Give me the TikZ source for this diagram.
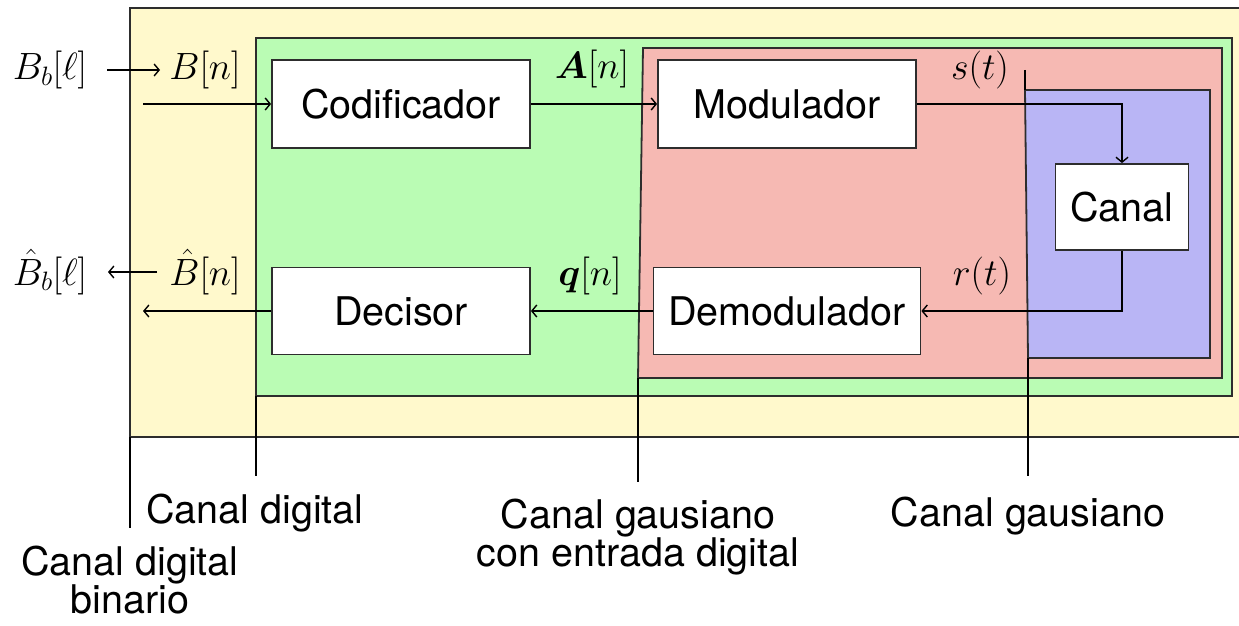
\RequirePackage{fix-cm}
\documentclass[tikz,border=0pt]{standalone}
\usepackage{fontspec}
\usepackage{bm}
\newfontfamily\labfont{TeX Gyre Heros}
\usetikzlibrary{arrows.meta}
\definecolor{yel}{RGB}{255,249,204}
\definecolor{grn}{RGB}{186,252,180}
\definecolor{redc}{RGB}{246,185,179}
\definecolor{blu}{RGB}{185,181,245}
\definecolor{edge}{RGB}{45,45,45}
\tikzset{
  region/.style={draw=edge,line width=1.8pt},
  blockbox/.style={draw=edge,fill=white,line width=1.8pt,inner sep=0pt,
    font=\labfont\fontsize{39.5}{46}\selectfont},
  arr/.style={line width=1.4pt,-{Straight Barb[length=5pt,width=12pt,line width=1.4pt]}},
  plain/.style={line width=1.6pt},
  mlab/.style={inner sep=0pt,anchor=base,font=\fontsize{38}{46}\selectfont},
  blab/.style={inner sep=0pt,anchor=base,align=center,
    font=\labfont\fontsize{39.5}{38}\selectfont}
}
\begin{document}
\begin{tikzpicture}[x=1pt,y=-1pt]
\useasboundingbox (0,0) rectangle (1239,626);
\clip (0,0) rectangle (1239,626);
% regions
\filldraw[region,fill=yel] (130,8) rectangle (1260,437);
\filldraw[region,fill=grn] (256,38) rectangle (1232,396);
\filldraw[region,fill=redc] (643,48) -- (1222,48) -- (1222,378) -- (638,378) -- cycle;
\filldraw[region,fill=blu] (1025,90) -- (1210,90) -- (1210,358) -- (1028,358) -- cycle;
% boundary extension lines
\coordinate (l1a) at (130,437); \coordinate (l1b) at (130,528);
\coordinate (l2a) at (256,396); \coordinate (l2b) at (256,476);
\coordinate (l3a) at (638,378); \coordinate (l3b) at (638,482);
\coordinate (l4a) at (1025,70); \coordinate (l4b) at (1025,90);
\coordinate (l5a) at (1028,358); \coordinate (l5b) at (1028,476);
\draw[plain] (l1a) -- (l1b);
\draw[plain] (l2a) -- (l2b);
\draw[plain] (l3a) -- (l3b);
\draw[plain] (l4a) -- (l4b);
\draw[plain] (l5a) -- (l5b);
% blocks
\node[blockbox,minimum width=258pt,minimum height=88pt] (cod) at (401,104) {Codificador};
\node[blockbox,minimum width=258pt,minimum height=88pt] (mod) at (787,104) {Modulador};
\node[blockbox,minimum width=133pt,minimum height=86pt] (can) at (1122,207) {Canal};
\node[blockbox,minimum width=258pt,minimum height=87pt] (dec) at (401,311) {Decisor};
\node[blockbox,minimum width=267pt,minimum height=87pt] (dem) at (787,311) {Demodulador};
% connectors
\coordinate (in) at (143,104);
\coordinate (out) at (143,311);
\draw[arr] (in) -- (cod);
\draw[arr] (cod) -- (mod);
\draw[arr] (mod.east) -| (can.north);
\draw[arr] (can.south) |- (dem.east);
\draw[arr] (dem) -- (dec);
\draw[arr] (dec) -- (out);
% math labels
\node[mlab] (bbl) at (50,80) {$B_b[\ell]$};
\node[mlab] (bn) at (205,80) {$B[n]$};
\node[mlab] (an) at (592,78) {$\bm{A}[n]$};
\node[mlab] (st) at (980,79) {$s(t)$};
\node[mlab] (hbbl) at (50,285) {$\hat{B}_b[\ell]$};
\node[mlab] (hbn) at (205,285) {$\hat{B}[n]$};
\node[mlab] (qn) at (590,285) {$\bm{q}[n]$};
\node[mlab] (rt) at (982,285) {$r(t)$};
\coordinate (s1) at (107,70); \coordinate (s2) at (160,70);
\coordinate (s3) at (157,272); \coordinate (s4) at (108,272);
\draw[arr] (s1) -- (s2);
\draw[arr] (s3) -- (s4);
% bottom labels
\node[blab] (t1) at (255,523) {Canal digital};
\node[blab] (t2) at (638,566) {Canal gausiano\\con entrada digital};
\node[blab] (t3) at (1028,526) {Canal gausiano};
\node[blab] (t4) at (130,613) {Canal digital\\binario};
\end{tikzpicture}
\end{document}
